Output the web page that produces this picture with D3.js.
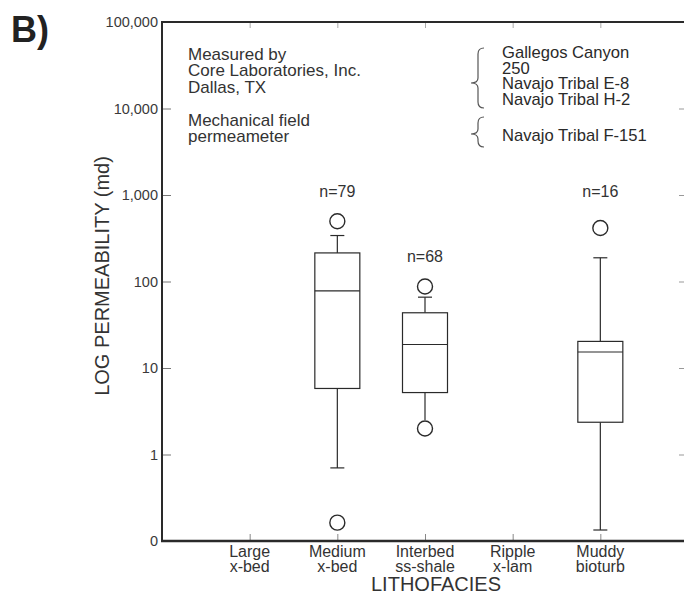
<!DOCTYPE html>
<html>
<head>
<meta charset="utf-8">
<script src="https://cdn.jsdelivr.net/npm/d3@7"></script>
<style>
  html, body { margin: 0; padding: 0; background: #fff; }
  svg { display: block; font-family: "Liberation Sans", Arial, sans-serif; }
</style>
</head>
<body>
<svg id="chart" width="684" height="596"></svg>
<script>
// ---- data ----
const categories = ["Large x-bed", "Medium x-bed", "Interbed ss-shale", "Ripple x-lam", "Muddy bioturb"];
const categoryLine1 = ["Large", "Medium", "Interbed", "Ripple", "Muddy"];
const categoryLine2 = ["x-bed", "x-bed", "ss-shale", "x-lam", "bioturb"];

const boxCategories = ["Medium x-bed", "Interbed ss-shale", "Muddy bioturb"];
const whiskerLow  = [0.70, 2.5, 0.134];
const q1          = [5.8, 5.2, 2.36];
const median      = [78, 18.7, 15.3];
const q3          = [214, 43.5, 20.3];
const whiskerHigh = [340, 65.9, 188];
const outliers    = [[497, 0.163], [87.5, 2.0], [416]];
const nCounts     = [79, 68, 16];
const nLabelLevel = [950, 168, 950];

const yTickValues = [0.1, 1, 10, 100, 1000, 10000, 100000];
const yTickLabels = ["0", "1", "10", "100", "1,000", "10,000", "100,000"];

const noteLines = ["Measured by", "Core Laboratories, Inc.", "Dallas, TX"];
const noteLines2 = ["Mechanical field", "permeameter"];
const legendGroup1 = ["Gallegos Canyon", "250", "Navajo Tribal E-8", "Navajo Tribal H-2"];
const legendGroup2 = ["Navajo Tribal F-151"];

// ---- layout ----
const svg = d3.select("#chart");
const pL = 162, pR = 688, pT = 22, pB = 541;
const ink = "#2a2a2a";

const x = d3.scalePoint().domain(categories).range([pL, pR]).padding(1);
const y = d3.scaleLog().domain([0.1, 100000]).range([pB, pT]);

// axes (ticks inward)
const gL = svg.append("g").attr("transform", `translate(${pL},0)`)
  .call(d3.axisLeft(y).tickValues(yTickValues)
        .tickFormat((d, i) => yTickLabels[i]).tickSizeInner(-9).tickSizeOuter(0).tickPadding(4));
gL.select(".domain").remove();
gL.selectAll("line").attr("stroke", "#777");
gL.selectAll("text").attr("font-size", 14.5).attr("fill", "#3a3a3a").attr("font-family", "Liberation Sans, Arial, sans-serif");

const gR = svg.append("g").attr("transform", `translate(${pR},0)`)
  .call(d3.axisRight(y).tickValues(yTickValues).tickFormat("").tickSizeInner(-9).tickSizeOuter(0));
gR.select(".domain").remove();
gR.selectAll("line").attr("stroke", "#999");

const gB = svg.append("g").attr("transform", `translate(0,${pB})`)
  .call(d3.axisBottom(x).tickFormat("").tickSizeInner(-7).tickSizeOuter(0));
gB.select(".domain").remove();
gB.selectAll("line").attr("stroke", "#888");

const gT = svg.append("g").attr("transform", `translate(0,${pT})`)
  .call(d3.axisTop(x).tickFormat("").tickSizeInner(-6).tickSizeOuter(0));
gT.select(".domain").remove();
gT.selectAll("line").attr("stroke", "#aaa");

// frame
svg.append("line").attr("x1", pL).attr("x2", pL).attr("y1", pT - 1).attr("y2", pB + 1)
  .attr("stroke", ink).attr("stroke-width", 2);
svg.append("line").attr("x1", pL - 1).attr("x2", pR).attr("y1", pT).attr("y2", pT)
  .attr("stroke", ink).attr("stroke-width", 2);
svg.append("line").attr("x1", pL - 1).attr("x2", pR).attr("y1", pB).attr("y2", pB)
  .attr("stroke", ink).attr("stroke-width", 2.5);
svg.append("line").attr("x1", pR).attr("x2", pR).attr("y1", pT).attr("y2", pB)
  .attr("stroke", ink).attr("stroke-width", 2);

// boxes
const boxW = 45, capW = 14, r = 7.5;
boxCategories.forEach((c, i) => {
  const cx = x(c);
  const g = svg.append("g").attr("fill", "none").attr("stroke", ink).attr("stroke-width", 1.2);
  g.append("line").attr("x1", cx).attr("x2", cx).attr("y1", y(q3[i])).attr("y2", y(whiskerHigh[i]));
  g.append("line").attr("x1", cx).attr("x2", cx).attr("y1", y(q1[i])).attr("y2", y(whiskerLow[i]));
  [whiskerHigh[i], whiskerLow[i]].forEach(w => {
    const wy = y(w);
    const touches = outliers[i].some(o => Math.abs(y(o) - wy) <= r + 1);
    if (!touches) {
      g.append("line").attr("x1", cx - capW / 2).attr("x2", cx + capW / 2).attr("y1", wy).attr("y2", wy);
    }
  });
  g.append("rect").attr("x", cx - boxW / 2).attr("width", boxW)
    .attr("y", y(q3[i])).attr("height", y(q1[i]) - y(q3[i])).attr("fill", "#fff");
  g.append("line").attr("x1", cx - boxW / 2).attr("x2", cx + boxW / 2)
    .attr("y1", y(median[i])).attr("y2", y(median[i]));
  outliers[i].forEach(o => {
    g.append("circle").attr("cx", cx).attr("cy", y(o)).attr("r", r).attr("stroke-width", 1.4);
  });
  svg.append("text").attr("x", cx).attr("y", y(nLabelLevel[i]))
    .attr("text-anchor", "middle").attr("font-size", 16).attr("fill", "#333")
    .text("n=" + nCounts[i]);
});

// category labels
categories.forEach((c, i) => {
  const t = svg.append("text").attr("text-anchor", "middle").attr("font-size", 16).attr("fill", "#333");
  t.append("tspan").attr("x", x(c)).attr("y", 557).text(categoryLine1[i]);
  t.append("tspan").attr("x", x(c)).attr("y", 572).text(categoryLine2[i]);
});

// axis titles
svg.append("text").attr("x", 436).attr("y", 591).attr("text-anchor", "middle")
  .attr("font-size", 20).attr("fill", "#333").text("LITHOFACIES");
svg.append("text").attr("transform", "translate(109,276) rotate(-90)").attr("text-anchor", "middle")
  .attr("font-size", 20).attr("fill", "#333").text("LOG PERMEABILITY (md)");

// panel label
svg.append("text").attr("x", 11).attr("y", 42).attr("font-size", 36).attr("font-weight", "bold")
  .attr("fill", "#222").text("B)");

// notes
noteLines.forEach((s, i) => {
  svg.append("text").attr("x", 188).attr("y", 59.5 + i * 16.8).attr("font-size", 17).attr("fill", "#333").text(s);
});
noteLines2.forEach((s, i) => {
  svg.append("text").attr("x", 188).attr("y", 125.5 + i * 16.8).attr("font-size", 17).attr("fill", "#333").text(s);
});

// legend with braces
legendGroup1.forEach((s, i) => {
  svg.append("text").attr("x", 502).attr("y", 58 + i * 15.5).attr("font-size", 16.6).attr("fill", "#2a2a2a").text(s);
});
legendGroup2.forEach((s, i) => {
  svg.append("text").attr("x", 502).attr("y", 141 + i * 15.5).attr("font-size", 16.6).attr("fill", "#2a2a2a").text(s);
});
function brace(y0, ym, y1) {
  const p = d3.path();
  p.moveTo(484, y0);
  p.quadraticCurveTo(478, y0, 478, y0 + 6);
  p.lineTo(478, ym - 5);
  p.quadraticCurveTo(478, ym, 471, ym);
  p.quadraticCurveTo(478, ym, 478, ym + 5);
  p.lineTo(478, y1 - 6);
  p.quadraticCurveTo(478, y1, 484, y1);
  svg.append("path").attr("d", p.toString()).attr("fill", "none").attr("stroke", "#555").attr("stroke-width", 1.2);
}
brace(48, 83, 108);
brace(117, 134, 147);
</script>
</body>
</html>
